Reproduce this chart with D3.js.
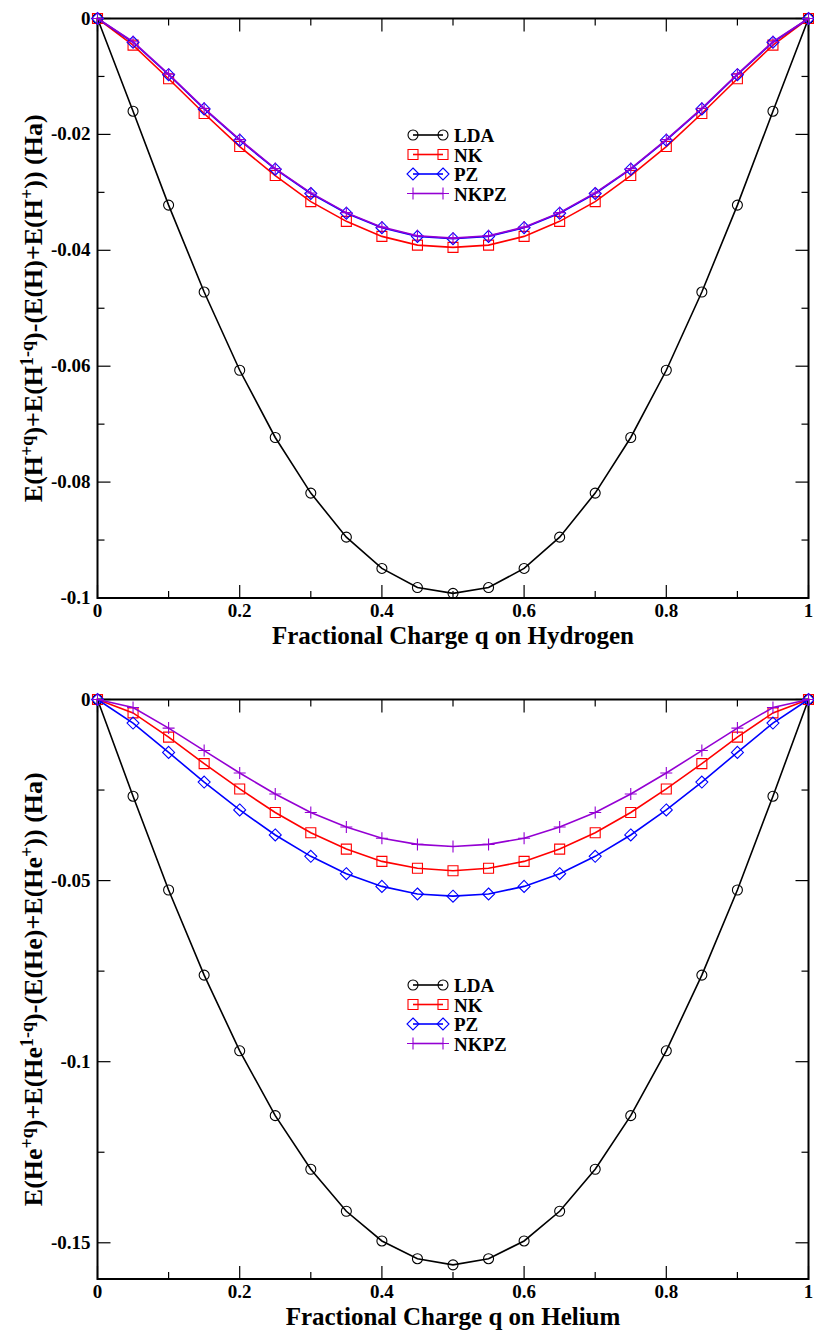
<!DOCTYPE html>
<html>
<head>
<meta charset="utf-8">
<script src="https://cdn.jsdelivr.net/npm/d3@7"></script>
<style>
  html, body { margin: 0; padding: 0; background: #fff; }
  svg { display: block; }
  text { font-family: "Liberation Serif", "Times New Roman", serif; font-weight: bold; fill: #000; }
</style>
</head>
<body>
<svg id="chart" width="814" height="1331"></svg>
<script>
// Fractional charge q, shared by both panels
const qValues = [0, 0.05, 0.1, 0.15, 0.2, 0.25, 0.3, 0.35, 0.4, 0.45, 0.5,
                 0.55, 0.6, 0.65, 0.7, 0.75, 0.8, 0.85, 0.9, 0.95, 1];

// Hydrogen energies (Ha)
const hLDA  = [0, -0.0160, -0.0322, -0.0472, -0.0607, -0.0723, -0.0819, -0.0895, -0.0949, -0.0982, -0.0992,
               -0.0982, -0.0949, -0.0895, -0.0819, -0.0723, -0.0607, -0.0472, -0.0322, -0.0160, 0];
const hNK   = [0, -0.0046, -0.0104, -0.0164, -0.0221, -0.0271, -0.0316, -0.0350, -0.0376, -0.0391, -0.0395,
               -0.0391, -0.0376, -0.0350, -0.0316, -0.0271, -0.0221, -0.0164, -0.0104, -0.0046, 0];
const hPZ   = [0, -0.0041, -0.0097, -0.0156, -0.0210, -0.0260, -0.0302, -0.0336, -0.0361, -0.0376, -0.0380,
               -0.0376, -0.0361, -0.0336, -0.0302, -0.0260, -0.0210, -0.0156, -0.0097, -0.0041, 0];
const hNKPZ = [0, -0.0040, -0.0096, -0.0155, -0.0209, -0.0259, -0.0301, -0.0335, -0.0360, -0.0375, -0.0379,
               -0.0375, -0.0360, -0.0335, -0.0301, -0.0259, -0.0209, -0.0155, -0.0096, -0.0040, 0];

// Helium energies (Ha)
const heLDA  = [0, -0.0267, -0.0526, -0.0761, -0.0970, -0.1149, -0.1297, -0.1413, -0.1495, -0.1544, -0.1561,
                -0.1544, -0.1495, -0.1413, -0.1297, -0.1149, -0.0970, -0.0761, -0.0526, -0.0267, 0];
const heNK   = [0, -0.0037, -0.0104, -0.0177, -0.0247, -0.0312, -0.0368, -0.0413, -0.0447, -0.0466, -0.0473,
                -0.0466, -0.0447, -0.0413, -0.0368, -0.0312, -0.0247, -0.0177, -0.0104, -0.0037, 0];
const hePZ   = [0, -0.0065, -0.0146, -0.0228, -0.0305, -0.0374, -0.0433, -0.0481, -0.0516, -0.0537, -0.0543,
                -0.0537, -0.0516, -0.0481, -0.0433, -0.0374, -0.0305, -0.0228, -0.0146, -0.0065, 0];
const heNKPZ = [0, -0.0022, -0.0079, -0.0141, -0.0203, -0.0261, -0.0312, -0.0352, -0.0383, -0.0400, -0.0406,
                -0.0400, -0.0383, -0.0352, -0.0312, -0.0261, -0.0203, -0.0141, -0.0079, -0.0022, 0];

const seriesNames = ["LDA", "NK", "PZ", "NKPZ"];
const seriesColors = ["#000000", "#ff0000", "#0000ff", "#9400d3"];
const seriesSymbols = ["circle", "square", "diamond", "plus"];

// Axis ticks
const xMajor = [0, 0.2, 0.4, 0.6, 0.8, 1];
const xMinor = [0.1, 0.3, 0.5, 0.7, 0.9];
const xTickLabels = ["0", "0.2", "0.4", "0.6", "0.8", "1"];

const hYMajor = [0, -0.02, -0.04, -0.06, -0.08, -0.1];
const hYMinor = [-0.01, -0.03, -0.05, -0.07, -0.09];
const hYTickLabels = ["0", "-0.02", "-0.04", "-0.06", "-0.08", "-0.1"];

const heYMajor = [0, -0.05, -0.1, -0.15];
const heYMinor = [-0.025, -0.075, -0.125];
const heYTickLabels = ["0", "-0.05", "-0.1", "-0.15"];

const svg = d3.select("#chart");

function symbolPath(kind) {
  if (kind === "circle") return "M5,0A5,5 0 1,1 -5,0A5,5 0 1,1 5,0Z";
  if (kind === "square") return "M-5,-5H5V5H-5Z";
  if (kind === "diamond") return "M0,-6L6,0L0,6L-6,0Z";
  return "M-6,0H6M0,-6V6";
}

function drawPanel(cfg) {
  const g = svg.append("g");
  const x = d3.scaleLinear().domain([0, 1]).range([cfg.left, cfg.right]);
  const y = d3.scaleLinear().domain(cfg.yDomain).range([cfg.bottom, cfg.top]);

  // Frame
  g.append("rect")
    .attr("x", cfg.left).attr("y", cfg.top)
    .attr("width", cfg.right - cfg.left).attr("height", cfg.bottom - cfg.top)
    .attr("fill", "none").attr("stroke", "#000").attr("stroke-width", 2);

  // Inward ticks on all four sides
  const tickG = g.append("g").attr("stroke", "#000").attr("stroke-width", 1.2);
  const major = 13, minor = 7;
  xMajor.concat(xMinor).forEach((v, i) => {
    const len = i < xMajor.length ? major : minor;
    tickG.append("line").attr("x1", x(v)).attr("x2", x(v)).attr("y1", cfg.bottom).attr("y2", cfg.bottom - len);
    tickG.append("line").attr("x1", x(v)).attr("x2", x(v)).attr("y1", cfg.top).attr("y2", cfg.top + len);
  });
  cfg.yMajor.concat(cfg.yMinor).forEach((v, i) => {
    const len = i < cfg.yMajor.length ? major : minor;
    tickG.append("line").attr("y1", y(v)).attr("y2", y(v)).attr("x1", cfg.left).attr("x2", cfg.left + len);
    tickG.append("line").attr("y1", y(v)).attr("y2", y(v)).attr("x1", cfg.right).attr("x2", cfg.right - len);
  });

  // Tick labels
  xMajor.forEach((v, i) => {
    g.append("text").attr("x", x(v)).attr("y", cfg.bottom + 19)
      .attr("text-anchor", "middle").attr("font-size", 19).text(xTickLabels[i]);
  });
  cfg.yMajor.forEach((v, i) => {
    g.append("text").attr("x", cfg.left - 7).attr("y", y(v) + 6)
      .attr("text-anchor", "end").attr("font-size", 19).text(cfg.yTickLabels[i]);
  });

  // Axis titles
  g.append("text").attr("x", (cfg.left + cfg.right) / 2).attr("y", cfg.bottom + 46)
    .attr("text-anchor", "middle").attr("font-size", 25).text(cfg.xTitle);

  const yt = g.append("text")
    .attr("transform", `translate(42,${(cfg.top + cfg.bottom) / 2}) rotate(-90)`)
    .attr("text-anchor", "middle").attr("font-size", 26);
  cfg.yTitle.forEach(part => {
    const t = yt.append("tspan").text(part.t);
    if (part.sup) t.attr("font-size", 18).attr("baseline-shift", "50%");
  });

  // Series lines and markers
  const line = d3.line().x((d, i) => x(qValues[i])).y(d => y(d));
  cfg.series.forEach((vals, s) => {
    g.append("path").datum(vals).attr("d", line)
      .attr("fill", "none").attr("stroke", seriesColors[s]).attr("stroke-width", 1.6);
    g.append("g").selectAll("path").data(vals).join("path")
      .attr("transform", (d, i) => `translate(${x(qValues[i])},${y(d)})`)
      .attr("d", symbolPath(seriesSymbols[s]))
      .attr("fill", "none").attr("stroke", seriesColors[s]).attr("stroke-width", 1.1);
  });

  // Legend
  const lg = g.append("g");
  seriesNames.forEach((name, s) => {
    const ly = cfg.legendY + s * 19.5;
    lg.append("line").attr("x1", cfg.legendX).attr("x2", cfg.legendX + 30)
      .attr("y1", ly).attr("y2", ly).attr("stroke", seriesColors[s]).attr("stroke-width", 1.6);
    [cfg.legendX, cfg.legendX + 30].forEach(px => {
      lg.append("path").attr("transform", `translate(${px},${ly})`)
        .attr("d", symbolPath(seriesSymbols[s]))
        .attr("fill", "none").attr("stroke", seriesColors[s]).attr("stroke-width", 1.1);
    });
    lg.append("text").attr("x", cfg.legendX + 41).attr("y", ly + 7)
      .attr("font-size", 19).text(name);
  });
}

drawPanel({
  left: 97.5, right: 808.5, top: 18.5, bottom: 598,
  yDomain: [-0.1, 0], yMajor: hYMajor, yMinor: hYMinor, yTickLabels: hYTickLabels,
  series: [hLDA, hNK, hPZ, hNKPZ],
  xTitle: "Fractional Charge q on Hydrogen",
  yTitle: [{t: "E(H"}, {t: "+q", sup: true}, {t: ")+E(H"}, {t: "1-q", sup: true},
           {t: ")-(E(H)+E(H"}, {t: "+", sup: true}, {t: ")) (Ha)"}],
  legendX: 413, legendY: 135
});

drawPanel({
  left: 97.5, right: 808.5, top: 699.5, bottom: 1279,
  yDomain: [-0.16, 0], yMajor: heYMajor, yMinor: heYMinor, yTickLabels: heYTickLabels,
  series: [heLDA, heNK, hePZ, heNKPZ],
  xTitle: "Fractional Charge q on Helium",
  yTitle: [{t: "E(He"}, {t: "+q", sup: true}, {t: ")+E(He"}, {t: "1-q", sup: true},
           {t: ")-(E(He)+E(He"}, {t: "+", sup: true}, {t: ")) (Ha)"}],
  legendX: 413, legendY: 985
});
</script>
</body>
</html>
